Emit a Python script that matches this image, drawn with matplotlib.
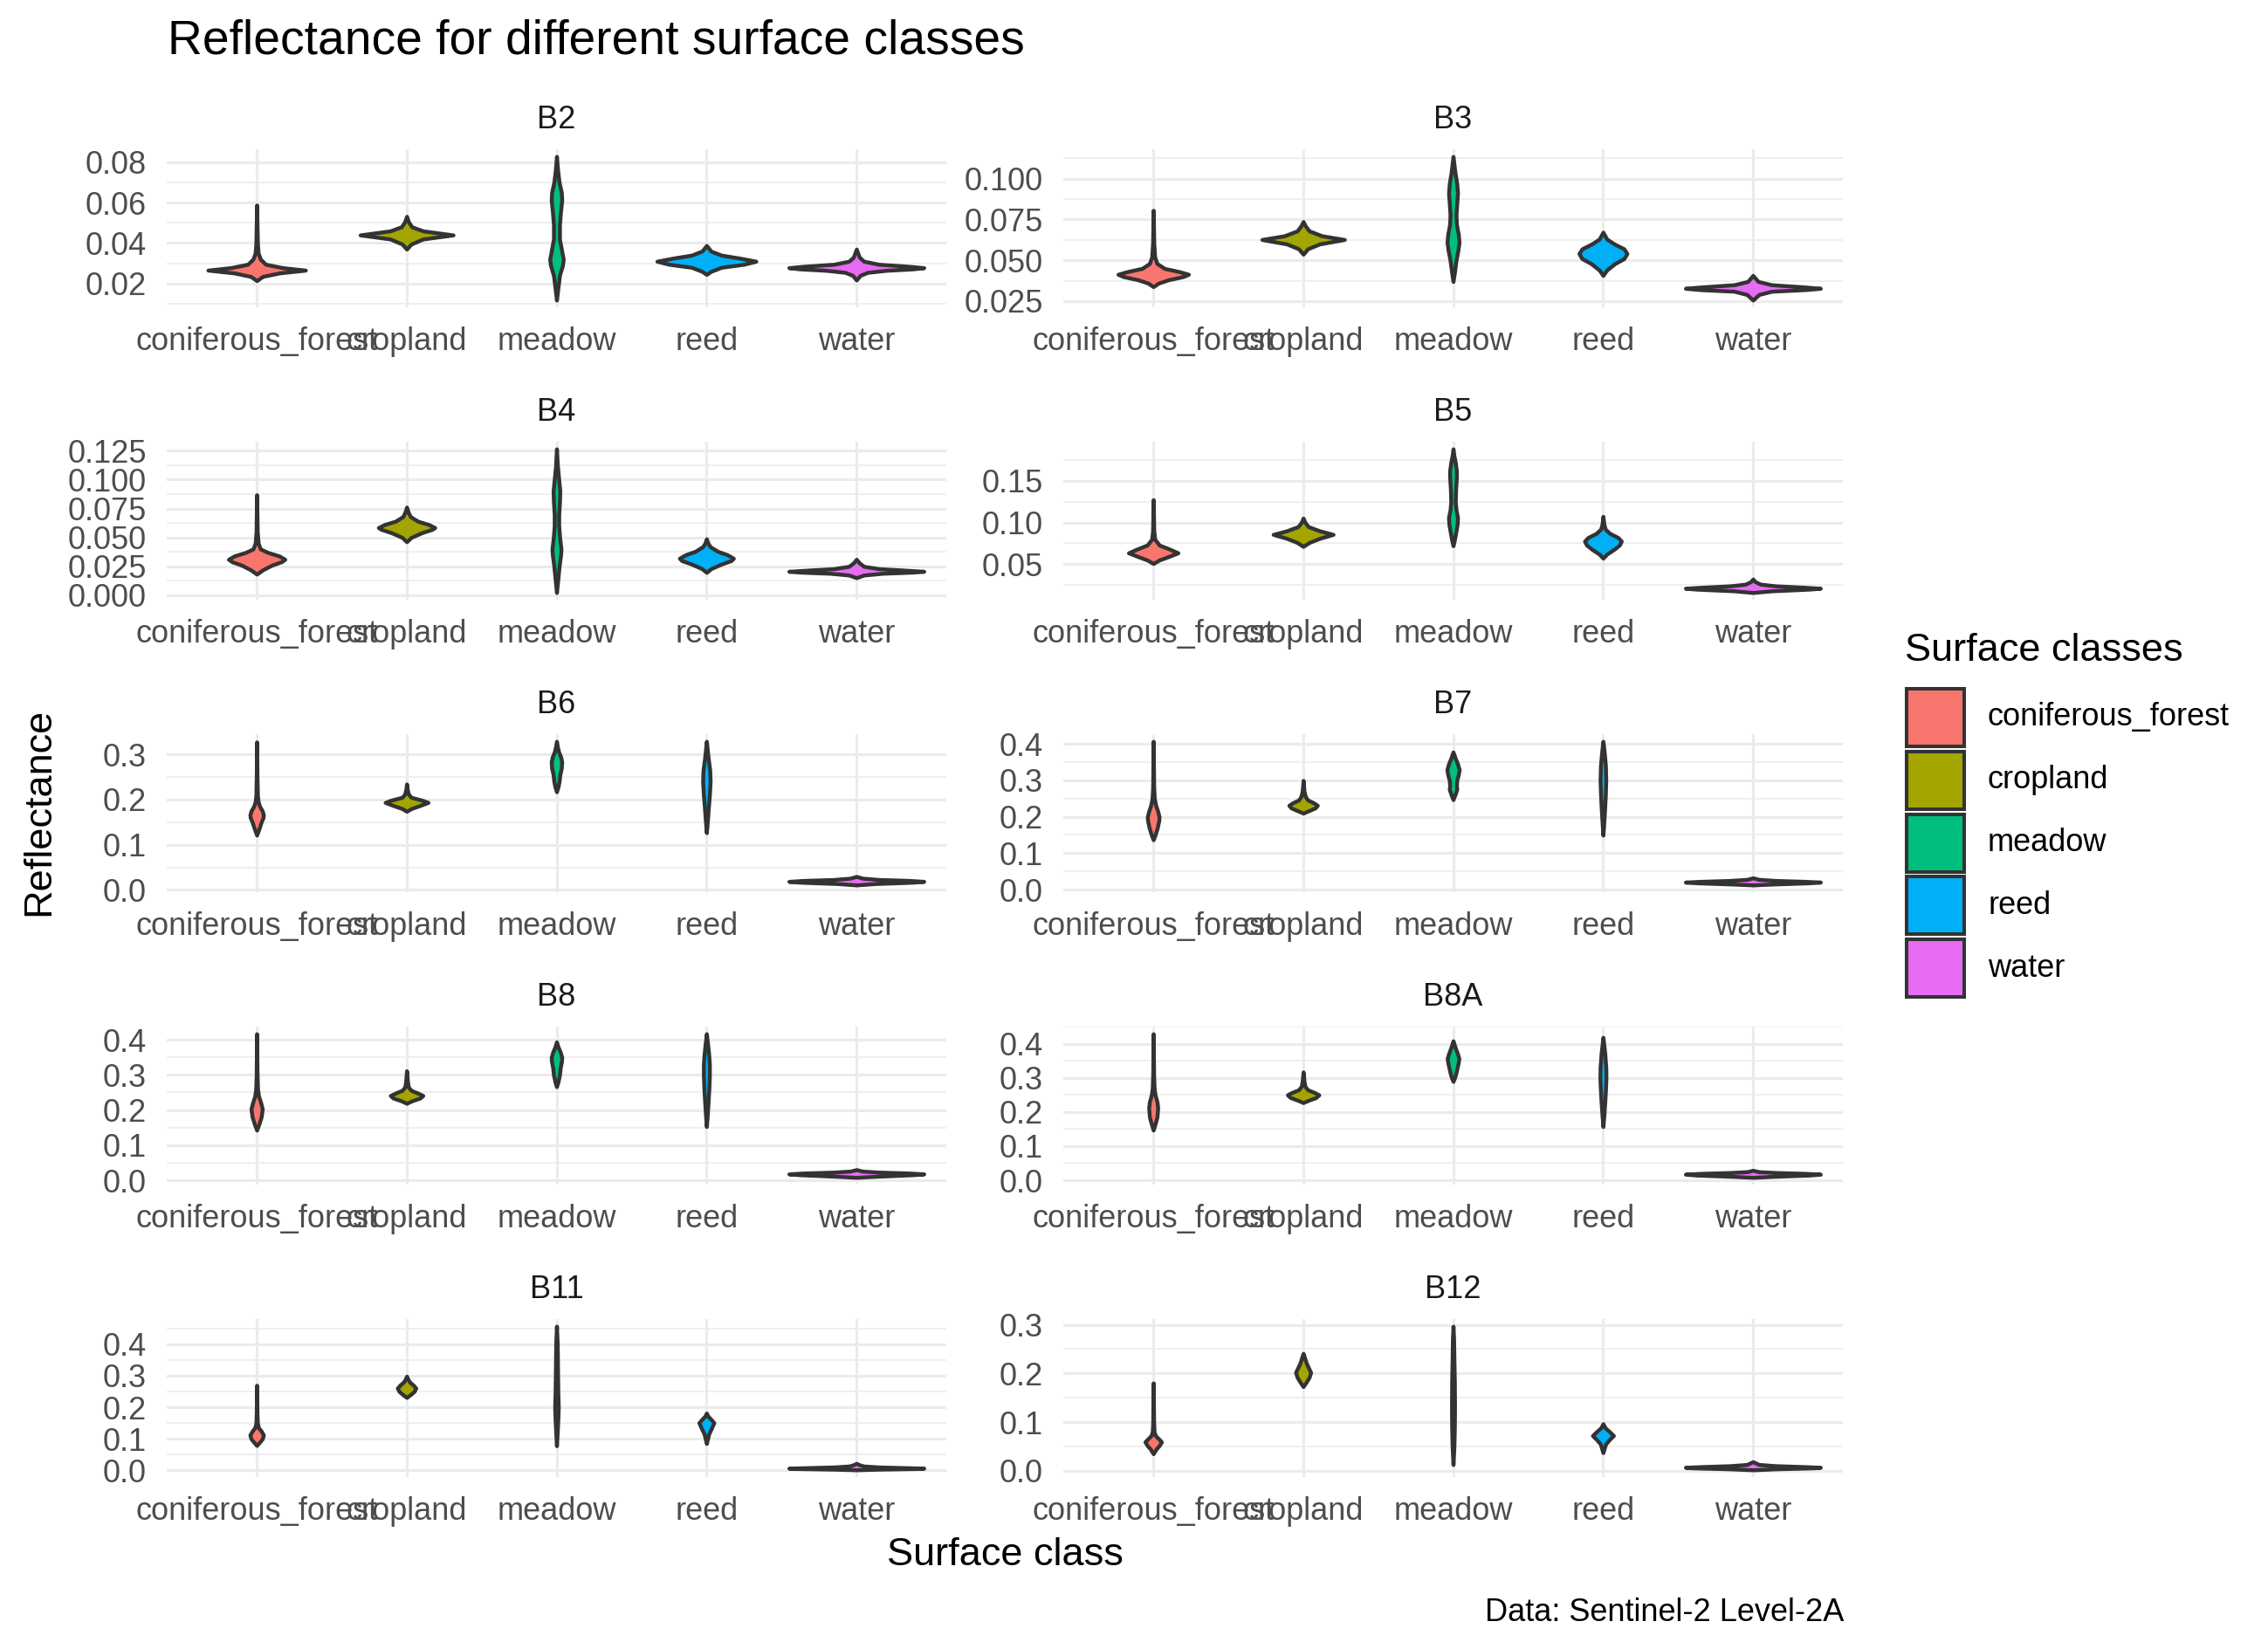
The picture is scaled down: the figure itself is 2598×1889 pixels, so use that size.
import matplotlib
matplotlib.use("Agg")
import matplotlib.pyplot as plt
from matplotlib.patches import Rectangle
from matplotlib.ticker import AutoMinorLocator

plt.rcParams['font.family'] = ['Liberation Sans', 'DejaVu Sans']

CLASSES = ["coniferous_forest", "cropland", "meadow", "reed", "water"]
CLASS_COLORS = ["#F8766D", "#A3A500", "#00BF7D", "#00B0F6", "#E76BF3"]
BANDS = ["B2", "B3", "B4", "B5", "B6", "B7", "B8", "B8A", "B11", "B12"]

# violin outlines, per class:
# (reflectance, violin width as share of one category slot)
B2 = {
    "coniferous_forest": [(0.0214, 0), (0.0235, 0.08), (0.0252, 0.3), (0.0266, 0.65), (0.0278, 0.35), (0.0295, 0.12), (0.032, 0.05), (0.035, 0.02), (0.040, 0.01), (0.0588, 0)],
    "cropland": [(0.0370, 0), (0.0395, 0.06), (0.0420, 0.22), (0.0440, 0.62), (0.0460, 0.22), (0.0480, 0.07), (0.0505, 0.025), (0.0532, 0)],
    "meadow": [(0.0118, 0), (0.018, 0.02), (0.024, 0.04), (0.029, 0.08), (0.032, 0.09), (0.036, 0.07), (0.042, 0.04), (0.049, 0.04), (0.056, 0.055), (0.061, 0.07), (0.065, 0.065), (0.070, 0.035), (0.076, 0.015), (0.0828, 0)],
    "reed": [(0.0245, 0), (0.026, 0.06), (0.028, 0.2), (0.0295, 0.5), (0.031, 0.66), (0.0325, 0.45), (0.034, 0.2), (0.036, 0.06), (0.0388, 0)],
    "water": [(0.0217, 0), (0.024, 0.05), (0.0255, 0.15), (0.0265, 0.4), (0.0272, 0.75), (0.0278, 0.9), (0.0285, 0.7), (0.0295, 0.3), (0.031, 0.1), (0.033, 0.04), (0.037, 0)],
}
B3 = {
    "coniferous_forest": [(0.0338, 0), (0.036, 0.07), (0.038, 0.2), (0.040, 0.4), (0.0414, 0.47), (0.043, 0.35), (0.045, 0.15), (0.048, 0.05), (0.052, 0.02), (0.060, 0.008), (0.0806, 0)],
    "cropland": [(0.0537, 0), (0.057, 0.06), (0.060, 0.22), (0.0627, 0.55), (0.065, 0.25), (0.068, 0.08), (0.071, 0.03), (0.0737, 0)],
    "meadow": [(0.037, 0), (0.043, 0.02), (0.050, 0.04), (0.056, 0.065), (0.061, 0.08), (0.066, 0.07), (0.072, 0.045), (0.078, 0.04), (0.085, 0.05), (0.091, 0.06), (0.097, 0.05), (0.104, 0.025), (0.1136, 0)],
    "reed": [(0.0407, 0), (0.044, 0.05), (0.048, 0.16), (0.051, 0.28), (0.0541, 0.32), (0.057, 0.28), (0.060, 0.15), (0.063, 0.05), (0.0672, 0)],
    "water": [(0.0256, 0), (0.029, 0.08), (0.031, 0.25), (0.032, 0.7), (0.0328, 0.9), (0.0336, 0.7), (0.035, 0.25), (0.037, 0.07), (0.0407, 0)],
}
B4 = {
    "coniferous_forest": [(0.0183, 0), (0.022, 0.08), (0.026, 0.2), (0.029, 0.33), (0.0311, 0.376), (0.034, 0.3), (0.037, 0.15), (0.040, 0.05), (0.045, 0.02), (0.055, 0.008), (0.0869, 0)],
    "cropland": [(0.0463, 0), (0.050, 0.06), (0.054, 0.2), (0.057, 0.34), (0.0585, 0.376), (0.061, 0.3), (0.064, 0.15), (0.068, 0.05), (0.072, 0.02), (0.0762, 0)],
    "meadow": [(0.0024, 0), (0.012, 0.015), (0.025, 0.035), (0.035, 0.055), (0.040, 0.06), (0.048, 0.045), (0.060, 0.03), (0.070, 0.03), (0.080, 0.04), (0.090, 0.045), (0.100, 0.03), (0.112, 0.012), (0.1265, 0)],
    "reed": [(0.0198, 0), (0.023, 0.06), (0.027, 0.2), (0.030, 0.33), (0.032, 0.36), (0.035, 0.28), (0.038, 0.15), (0.042, 0.05), (0.045, 0.02), (0.0488, 0)],
    "water": [(0.0152, 0), (0.0175, 0.1), (0.019, 0.35), (0.020, 0.75), (0.0207, 0.9), (0.0215, 0.7), (0.023, 0.3), (0.025, 0.1), (0.028, 0.04), (0.0311, 0)],
}
B5 = {
    "coniferous_forest": [(0.0508, 0), (0.055, 0.08), (0.059, 0.2), (0.0636, 0.33), (0.068, 0.22), (0.073, 0.08), (0.080, 0.02), (0.090, 0.008), (0.1274, 0)],
    "cropland": [(0.0713, 0), (0.076, 0.08), (0.081, 0.22), (0.0857, 0.4), (0.090, 0.22), (0.095, 0.07), (0.100, 0.025), (0.1053, 0)],
    "meadow": [(0.0721, 0), (0.080, 0.02), (0.090, 0.04), (0.098, 0.055), (0.106, 0.06), (0.115, 0.04), (0.125, 0.03), (0.140, 0.035), (0.155, 0.045), (0.162, 0.045), (0.172, 0.03), (0.180, 0.012), (0.1883, 0)],
    "reed": [(0.0572, 0), (0.062, 0.05), (0.068, 0.15), (0.073, 0.22), (0.0777, 0.245), (0.082, 0.2), (0.087, 0.09), (0.092, 0.03), (0.098, 0.012), (0.1074, 0)],
    "water": [(0.016, 0), (0.018, 0.25), (0.0200, 0.75), (0.0211, 0.9), (0.0222, 0.7), (0.024, 0.3), (0.026, 0.1), (0.029, 0.03), (0.0321, 0)],
}
B6 = {
    "coniferous_forest": [(0.1213, 0), (0.135, 0.03), (0.150, 0.06), (0.160, 0.085), (0.166, 0.09), (0.175, 0.075), (0.185, 0.04), (0.195, 0.02), (0.210, 0.01), (0.250, 0.005), (0.3276, 0)],
    "cropland": [(0.174, 0), (0.180, 0.06), (0.187, 0.18), (0.1937, 0.286), (0.199, 0.2), (0.205, 0.06), (0.212, 0.025), (0.222, 0.01), (0.2346, 0)],
    "meadow": [(0.2173, 0), (0.228, 0.02), (0.240, 0.035), (0.255, 0.045), (0.270, 0.065), (0.284, 0.07), (0.295, 0.055), (0.305, 0.03), (0.317, 0.012), (0.329, 0)],
    "reed": [(0.1268, 0), (0.150, 0.012), (0.180, 0.025), (0.210, 0.04), (0.240, 0.05), (0.265, 0.045), (0.290, 0.025), (0.310, 0.012), (0.329, 0)],
    "water": [(0.011, 0), (0.014, 0.25), (0.017, 0.75), (0.0189, 0.9), (0.021, 0.7), (0.023, 0.3), (0.026, 0.08), (0.0299, 0)],
}
B7 = {
    "coniferous_forest": [(0.1366, 0), (0.150, 0.025), (0.170, 0.055), (0.190, 0.075), (0.200, 0.078), (0.215, 0.06), (0.230, 0.035), (0.250, 0.015), (0.280, 0.007), (0.4068, 0)],
    "cropland": [(0.2098, 0), (0.216, 0.07), (0.224, 0.16), (0.2312, 0.19), (0.238, 0.14), (0.246, 0.06), (0.255, 0.03), (0.270, 0.012), (0.2995, 0)],
    "meadow": [(0.2468, 0), (0.260, 0.025), (0.275, 0.05), (0.285, 0.045), (0.300, 0.05), (0.315, 0.07), (0.3288, 0.082), (0.345, 0.06), (0.360, 0.03), (0.3776, 0)],
    "reed": [(0.1493, 0), (0.180, 0.01), (0.220, 0.022), (0.260, 0.032), (0.300, 0.038), (0.340, 0.033), (0.370, 0.02), (0.390, 0.01), (0.4068, 0)],
    "water": [(0.0127, 0), (0.015, 0.25), (0.0185, 0.75), (0.0205, 0.9), (0.0225, 0.7), (0.025, 0.3), (0.028, 0.08), (0.0322, 0)],
}
B8 = {
    "coniferous_forest": [(0.1427, 0), (0.160, 0.03), (0.180, 0.06), (0.203, 0.075), (0.220, 0.055), (0.240, 0.025), (0.260, 0.012), (0.300, 0.006), (0.417, 0)],
    "cropland": [(0.219, 0), (0.226, 0.07), (0.234, 0.18), (0.2412, 0.217), (0.248, 0.15), (0.256, 0.06), (0.265, 0.025), (0.280, 0.012), (0.3116, 0)],
    "meadow": [(0.2663, 0), (0.280, 0.02), (0.300, 0.04), (0.320, 0.05), (0.340, 0.068), (0.350, 0.07), (0.365, 0.05), (0.380, 0.02), (0.394, 0)],
    "reed": [(0.1528, 0), (0.180, 0.01), (0.220, 0.022), (0.260, 0.033), (0.300, 0.04), (0.330, 0.04), (0.360, 0.03), (0.390, 0.015), (0.417, 0)],
    "water": [(0.0081, 0), (0.011, 0.25), (0.0155, 0.75), (0.018, 0.9), (0.0205, 0.7), (0.023, 0.3), (0.026, 0.08), (0.0302, 0)],
}
B8A = {
    "coniferous_forest": [(0.1468, 0), (0.165, 0.025), (0.185, 0.05), (0.2119, 0.06), (0.230, 0.05), (0.250, 0.025), (0.270, 0.012), (0.310, 0.006), (0.429, 0)],
    "cropland": [(0.2274, 0), (0.234, 0.07), (0.242, 0.17), (0.2501, 0.21), (0.257, 0.15), (0.265, 0.06), (0.275, 0.025), (0.290, 0.012), (0.3173, 0)],
    "meadow": [(0.2894, 0), (0.300, 0.02), (0.315, 0.04), (0.330, 0.055), (0.345, 0.07), (0.3566, 0.078), (0.370, 0.06), (0.385, 0.035), (0.398, 0.015), (0.4083, 0)],
    "reed": [(0.1571, 0), (0.190, 0.012), (0.230, 0.025), (0.270, 0.035), (0.300, 0.04), (0.330, 0.038), (0.370, 0.025), (0.400, 0.01), (0.4186, 0)],
    "water": [(0.0083, 0), (0.011, 0.25), (0.015, 0.75), (0.0176, 0.9), (0.020, 0.7), (0.0225, 0.3), (0.025, 0.08), (0.029, 0)],
}
B11 = {
    "coniferous_forest": [(0.0791, 0), (0.090, 0.04), (0.100, 0.075), (0.1124, 0.09), (0.125, 0.06), (0.135, 0.025), (0.150, 0.01), (0.180, 0.005), (0.2697, 0)],
    "cropland": [(0.231, 0), (0.240, 0.05), (0.250, 0.1), (0.2607, 0.123), (0.270, 0.09), (0.280, 0.04), (0.290, 0.015), (0.2984, 0)],
    "meadow": [(0.0782, 0), (0.120, 0.01), (0.170, 0.02), (0.200, 0.024), (0.250, 0.018), (0.320, 0.014), (0.400, 0.01), (0.4566, 0)],
    "reed": [(0.0854, 0), (0.100, 0.015), (0.115, 0.03), (0.130, 0.06), (0.151, 0.1), (0.162, 0.06), (0.172, 0.02), (0.1816, 0)],
    "water": [(0.002, 0), (0.004, 0.3), (0.006, 0.8), (0.0072, 0.9), (0.0085, 0.7), (0.011, 0.3), (0.014, 0.1), (0.018, 0.04), (0.0225, 0)],
}
B12 = {
    "coniferous_forest": [(0.035, 0), (0.045, 0.04), (0.052, 0.08), (0.0595, 0.11), (0.066, 0.07), (0.072, 0.03), (0.080, 0.012), (0.100, 0.006), (0.1806, 0)],
    "cropland": [(0.173, 0), (0.182, 0.04), (0.192, 0.08), (0.2022, 0.1), (0.212, 0.07), (0.222, 0.04), (0.232, 0.02), (0.2412, 0)],
    "meadow": [(0.0129, 0), (0.050, 0.012), (0.090, 0.018), (0.130, 0.02), (0.180, 0.018), (0.230, 0.012), (0.270, 0.008), (0.297, 0)],
    "reed": [(0.0373, 0), (0.045, 0.015), (0.055, 0.035), (0.065, 0.09), (0.0723, 0.14), (0.080, 0.09), (0.088, 0.03), (0.0967, 0)],
    "water": [(0.002, 0), (0.004, 0.3), (0.006, 0.8), (0.0071, 0.9), (0.0085, 0.7), (0.0105, 0.3), (0.013, 0.08), (0.0187, 0)],
}

# y tick labels per facet
TICKS = {
    "B2": ["0.02", "0.04", "0.06", "0.08"],
    "B3": ["0.025", "0.050", "0.075", "0.100"],
    "B4": ["0.000", "0.025", "0.050", "0.075", "0.100", "0.125"],
    "B5": ["0.05", "0.10", "0.15"],
    "B6": ["0.0", "0.1", "0.2", "0.3"],
    "B7": ["0.0", "0.1", "0.2", "0.3", "0.4"],
    "B8": ["0.0", "0.1", "0.2", "0.3", "0.4"],
    "B8A": ["0.0", "0.1", "0.2", "0.3", "0.4"],
    "B11": ["0.0", "0.1", "0.2", "0.3", "0.4"],
    "B12": ["0.0", "0.1", "0.2", "0.3"],
}

BAND_DATA = [B2, B3, B4, B5, B6, B7, B8, B8A, B11, B12]

# layout, in pixels of the 2598x1889 output
W, H = 2598, 1889
COL_X = [191, 1218]
PANEL_W = 893
ROW_TOP = [171, 506, 841, 1176, 1511]
PANEL_H = 181

EDGE = "#333333"
GRID = "#EBEBEB"
SMALL = 26
BIG = 32.5


def fx(px):
    return px / W


def fy(py):
    return 1 - py / H


fig = plt.figure(figsize=(W / 100, H / 100), dpi=100)

for i, band in enumerate(BANDS):
    row, col = i // 2, i % 2
    ax = fig.add_axes([fx(COL_X[col]), fy(ROW_TOP[row] + PANEL_H),
                       PANEL_W / W, PANEL_H / H])
    data = BAND_DATA[i]
    for k, cls in enumerate(CLASSES):
        prof = data[cls]
        ys = [p[0] for p in prof]
        left = [k + 1 - p[1] / 2 for p in prof]
        right = [k + 1 + p[1] / 2 for p in prof]
        ax.fill_betweenx(ys, left, right, facecolor=CLASS_COLORS[k],
                         edgecolor=EDGE, linewidth=3.2, joinstyle='round', zorder=3)
    ax.set_xlim(0.4, 5.6)
    ax.margins(y=0.05)
    labels = TICKS[band]
    ax.set_yticks([float(s) for s in labels], labels)
    ax.yaxis.set_minor_locator(AutoMinorLocator(2))
    ax.set_xticks(range(1, 6), CLASSES)
    ax.tick_params(which='both', length=0)
    ax.tick_params(axis='y', pad=16.5, labelsize=SMALL, labelcolor='#4D4D4D')
    ax.tick_params(axis='x', pad=16, labelsize=SMALL, labelcolor='#4D4D4D')
    ax.grid(which='major', color=GRID, linewidth=2.2)
    ax.grid(which='minor', axis='y', color=GRID, linewidth=1.1)
    ax.set_axisbelow(True)
    for s in ax.spines.values():
        s.set_visible(False)
    ax.set_title(band, fontsize=SMALL, color='#1A1A1A', pad=17)

fig.text(fx(192), fy(62), "Reflectance for different surface classes",
         fontsize=39.7, ha='left', va='baseline')
fig.text(fx(1151), fy(1793), "Surface class", fontsize=BIG, ha='center', va='baseline')
fig.text(fx(45), fy(930), "Reflectance", fontsize=BIG, rotation=90,
         ha='center', va='center')
fig.text(fx(2112), fy(1857), "Data: Sentinel-2 Level-2A", fontsize=SMALL,
         ha='right', va='baseline')

# legend
fig.text(fx(2182), fy(757), "Surface classes", fontsize=BIG, ha='left', va='baseline')
for k, cls in enumerate(CLASSES):
    top = 787 + k * 71.8
    fig.add_artist(Rectangle((fx(2184), fy(top + 68)), 66 / W, 66 / H,
                             transform=fig.transFigure, facecolor=CLASS_COLORS[k],
                             edgecolor=EDGE, linewidth=2.9))
    fig.text(fx(2277), fy(top + 35), cls, fontsize=SMALL, ha='left', va='center')

fig.savefig("out.png", dpi=100, facecolor='white')
